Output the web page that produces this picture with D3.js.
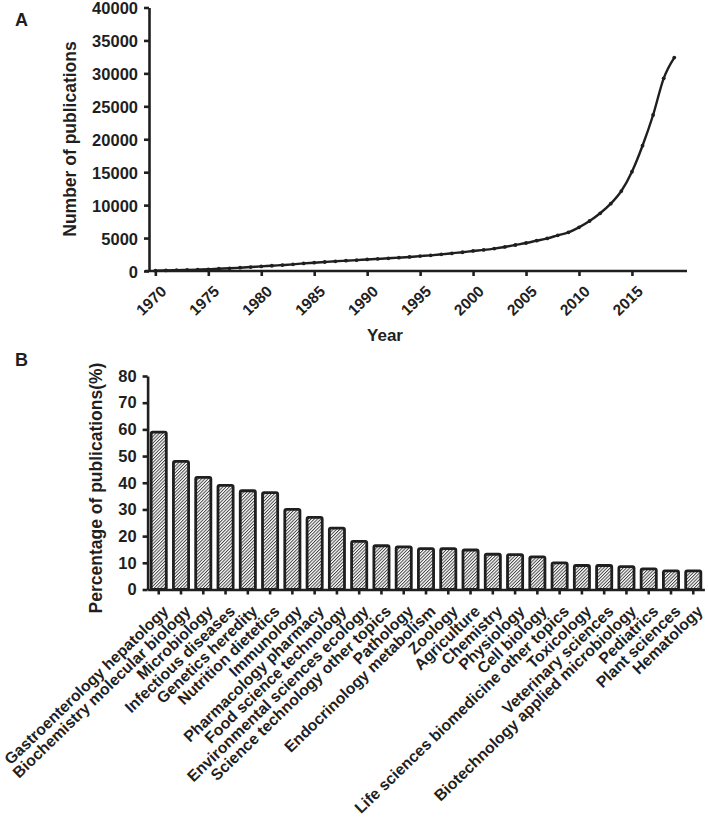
<!DOCTYPE html>
<html><head><meta charset="utf-8">
<script src="https://cdn.jsdelivr.net/npm/d3@7"></script>
<style>
body{margin:0;background:#fff;}
svg{display:block;font-family:"Liberation Sans",Arial,sans-serif;font-weight:bold;}
</style></head>
<body><svg id="c" width="708" height="818"></svg>
<script>
const years = d3.range(1970, 2020);
const pubs = [50,80,120,160,210,260,340,410,500,600,700,800,900,1010,1150,1260,1370,1470,1560,1650,
  1750,1840,1930,2030,2130,2260,2380,2530,2690,2850,3040,3200,3400,3650,3950,4250,4600,4950,5420,5870,
  6630,7590,8760,10220,12140,15070,19020,23680,29250,32400];
const yearTicks = [1970,1975,1980,1985,1990,1995,2000,2005,2010,2015];
const pubTicks = [0,5000,10000,15000,20000,25000,30000,35000,40000];

const categories = ["Gastroenterology hepatology","Biochemistry molecular biology","Microbiology","Infectious diseases",
  "Genetics heredity","Nutrition dietetics","Immunology","Pharmacology pharmacy","Food science technology",
  "Environmental sciences ecology","Science technology other topics","Pathology","Endocrinology metabolism",
  "Zoology","Agriculture","Chemistry","Physiology","Cell biology","Life sciences biomedicine other topics",
  "Toxicology","Veterinary sciences","Biotechnology applied microbiology","Pediatrics","Plant sciences","Hematology"];
const percents = [59,48,42,39,37,36.3,30,27,23,18,16.4,16,15.3,15.3,14.8,13.2,13.1,12.2,10,9,9,8.6,7.7,7,7];
const pctTicks = [0,10,20,30,40,50,60,70,80];

const ink = "#1f1f1f";
const svg = d3.select("#c");

// Hatch pattern
const defs = svg.append("defs");
const pat = defs.append("pattern").attr("id","hatch").attr("patternUnits","userSpaceOnUse")
  .attr("width",2.3).attr("height",6).attr("patternTransform","rotate(45)");
pat.append("rect").attr("width",2.3).attr("height",6).attr("fill","#fff");
pat.append("line").attr("x1",0.5).attr("y1",0).attr("x2",0.5).attr("y2",6).attr("stroke","#333").attr("stroke-width",0.9);

function styleAxis(g){
  g.attr("font-family",null).attr("font-size",null);
  g.selectAll("path,line").attr("stroke",ink).attr("stroke-width",2.6);
  g.selectAll("text").attr("fill",ink);
}

// ---------- Panel A ----------
const xA = d3.scaleLinear().domain([1969.4, 2020.2]).range([149, 687]);
const yA = d3.scaleLinear().domain([0, 40000]).range([271, 7.5]);

svg.append("text").attr("x",15).attr("y",26).attr("font-size",18).attr("fill",ink).text("A");

const gxA = svg.append("g").attr("transform","translate(0,271)")
  .call(d3.axisBottom(xA).tickValues(yearTicks).tickFormat(d3.format("d")).tickSize(5).tickSizeOuter(0));
gxA.select(".domain").attr("d","M145,0H687");
gxA.selectAll("text").attr("font-size",15.5).attr("text-anchor","end")
  .attr("x",0).attr("y",0).attr("dy",0)
  .attr("transform","translate(11.5,21.5) rotate(-44)");

const gyA = svg.append("g").attr("transform","translate(149,0)")
  .call(d3.axisLeft(yA).tickValues(pubTicks).tickFormat(d3.format("d")).tickSize(5).tickSizeOuter(0).tickPadding(6));
gyA.selectAll("text").attr("font-size",16.5).attr("dy","0.37em");
styleAxis(gxA); styleAxis(gyA);

const line = d3.line().x((d,i)=>xA(years[i])).y(d=>yA(d)).curve(d3.curveMonotoneX);
svg.append("path").datum(pubs).attr("d",line).attr("fill","none").attr("stroke",ink).attr("stroke-width",2.4);
svg.append("g").selectAll("circle").data(pubs).join("circle")
  .attr("cx",(d,i)=>xA(years[i])).attr("cy",d=>yA(d)).attr("r",1.9).attr("fill",ink);

svg.append("text").attr("transform","translate(76,139) rotate(-90)").attr("text-anchor","middle")
  .attr("font-size",17.5).attr("fill",ink).text("Number of publications");
svg.append("text").attr("x",385).attr("y",341).attr("text-anchor","middle")
  .attr("font-size",17).attr("fill",ink).text("Year");

// ---------- Panel B ----------
const xB = d3.scaleBand().domain(categories).range([147.6, 704.4]).paddingInner(0.32).paddingOuter(0.16);
const yB = d3.scaleLinear().domain([0, 80]).range([589.5, 376]);

svg.append("text").attr("x",15).attr("y",366).attr("font-size",18).attr("fill",ink).text("B");

svg.append("g").selectAll("rect").data(percents).join("rect")
  .attr("x",(d,i)=>xB(categories[i])).attr("y",d=>yB(d))
  .attr("width",xB.bandwidth()).attr("height",d=>yB(0)-yB(d))
  .attr("fill","url(#hatch)").attr("stroke",ink).attr("stroke-width",2.8).attr("rx",1.5);

const gxB = svg.append("g").attr("transform","translate(0,589.5)")
  .call(d3.axisBottom(xB).tickSize(5).tickSizeOuter(0));
gxB.selectAll("text").attr("font-size",15.8).attr("text-anchor","end")
  .attr("x",0).attr("y",0).attr("dy",0)
  .attr("transform","translate(10.5,23) rotate(-44)");

const gyB = svg.append("g").attr("transform","translate(147.6,0)")
  .call(d3.axisLeft(yB).tickValues(pctTicks).tickSize(5).tickSizeOuter(0).tickPadding(6));
gyB.selectAll("text").attr("font-size",16.5);
styleAxis(gxB); styleAxis(gyB);

svg.append("text").attr("transform","translate(102,488) rotate(-90)").attr("text-anchor","middle")
  .attr("font-size",17.5).attr("fill",ink).text("Percentage of publications(%)");
</script></body></html>
